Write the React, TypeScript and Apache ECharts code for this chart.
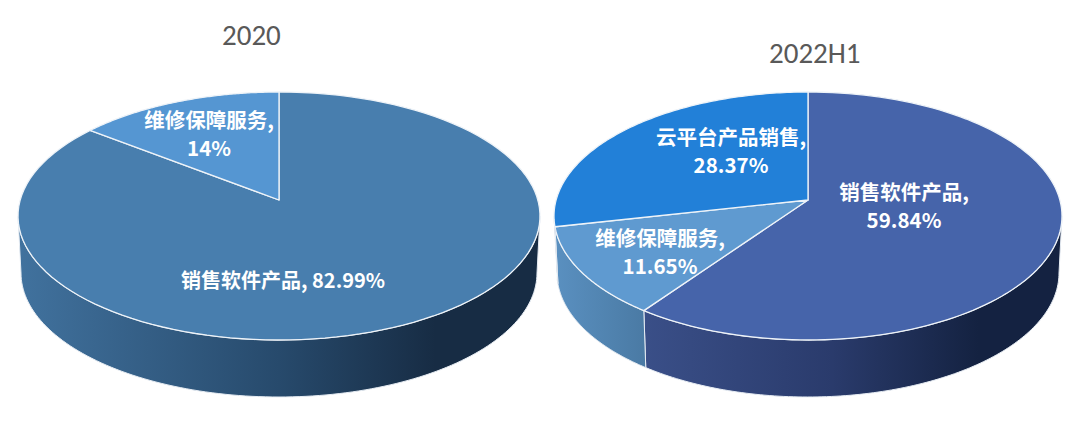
import React, { useEffect, useRef } from "react";
import * as echarts from "echarts";

const titles2020 = "2020";
const titles2022 = "2022H1";
const names2020 = ["销售软件产品", "维修保障服务"];
const values2020 = [82.99, 14];
const labels2020 = ["销售软件产品, 82.99%", "维修保障服务,\n14%"];
const names2022 = ["销售软件产品", "维修保障服务", "云平台产品销售"];
const values2022 = [59.84, 11.65, 28.37];
const labels2022 = ["销售软件产品,\n59.84%", "维修保障服务,\n11.65%", "云平台产品销售,\n28.37%"];

const FONT = '"Noto Sans CJK SC", "Noto Sans", sans-serif';
const K = 0.879;

type Look = {
  top: string;
  side: [number, string][];
  label: [number, number];
  size: number;
};
type Geo = { cx: number; ax: number; ay: number; cy: number; rx: number; ry: number; depth: number; inset: number };

const leftGeo: Geo = { cx: 279, ax: 279, ay: 200, cy: 216, rx: 261, ry: 124, depth: 57, inset: 3 };
const rightGeo: Geo = { cx: 808, ax: 808, ay: 200, cy: 216, rx: 254, ry: 124, depth: 57, inset: 3 };

const darkBlue: [number, string][] = [[0, "#41729e"], [0.5, "#274a6c"], [0.8, "#172c44"], [1, "#172c44"]];
const navy: [number, string][] = [[0, "#3a4f88"], [0.45, "#2a3b6c"], [0.8, "#142241"], [1, "#142241"]];
const steel: [number, string][] = [[0, "#5a90c0"], [1, "#4a7aa4"]];

const looks2020: Look[] = [
  { top: "#487eae", side: darkBlue, label: [283, 279], size: 20 },
  { top: "#5596d2", side: darkBlue, label: [209, 133], size: 20.5 },
];
const looks2022: Look[] = [
  { top: "#4664aa", side: navy, label: [904, 205], size: 20.5 },
  { top: "#5f9ad0", side: steel, label: [660, 251], size: 20.5 },
  { top: "#2280d8", side: navy, label: [731, 150], size: 20.5 },
];

function toEdge(theta: number) {
  const h = (theta * Math.PI) / 360;
  return 2 * Math.atan2(K * Math.sin(h), Math.cos(h));
}

function pieSeries(values: number[], names: string[], labels: string[], looks: Look[], g: Geo) {
  const total = values.reduce((a, b) => a + b, 0);
  return {
    type: "custom",
    coordinateSystem: "none",
    silent: true,
    data: values.map((v, i) => ({ value: v, name: names[i] })),
    renderItem: (params: any, api: any) => {
      const i = params.dataIndex;
      const before = values.slice(0, i).reduce((a, b) => a + b, 0);
      const v = api.value(0);
      const p1 = toEdge((before / total) * 360);
      const p2 = toEdge(((before + v) / total) * 360);
      const look = looks[i];
      const pt = (p: number) => [g.cx + g.rx * Math.sin(p), g.cy - g.ry * Math.cos(p)];
      const low = (p: number) => [
        g.cx + (g.rx - g.inset) * Math.sin(p),
        g.cy + g.depth - g.ry * Math.cos(p),
      ];
      const steps = 120;
      const top: number[][] = [[g.ax, g.ay]];
      for (let s = 0; s <= steps; s++) top.push(pt(p1 + ((p2 - p1) * s) / steps));
      const children: any[] = [];
      const s1 = Math.max(p1, Math.PI / 2);
      const s2 = Math.min(p2, (Math.PI * 3) / 2);
      if (s2 > s1) {
        const upper: number[][] = [];
        const lower: number[][] = [];
        for (let s = 0; s <= steps; s++) {
          const p = s1 + ((s2 - s1) * s) / steps;
          upper.push(pt(p));
          lower.push(low(p));
        }
        const xs = upper.map((q) => q[0]).concat(lower.map((q) => q[0]));
        const x0 = Math.min(...xs);
        const x1 = Math.max(...xs);
        children.push({
          type: "polygon",
          shape: { points: upper.concat(lower.reverse()) },
          style: {
            fill: new echarts.graphic.LinearGradient(x1, 0, x0, 0,
              look.side.map(([o, c]) => ({ offset: 1 - o, color: c })).reverse(), true),
            stroke: "#e6ecf3",
            lineWidth: 1,
          },
        });
      }
      children.push({
        type: "polygon",
        shape: { points: top },
        style: { fill: look.top, stroke: "#eef3f8", lineWidth: 1.3, lineJoin: "round" },
      });
      children.push({
        type: "text",
        z2: 10,
        style: {
          text: labels[i],
          x: look.label[0],
          y: look.label[1],
          align: "center",
          verticalAlign: "middle",
          fill: "#ffffff",
          font: `bold ${look.size}px ${FONT}`,
          lineHeight: 28,
        },
      });
      return { type: "group", children };
    },
  };
}

export default function App() {
  const ref = useRef<HTMLDivElement>(null);
  useEffect(() => {
    const chart = echarts.init(ref.current!, undefined, { renderer: "svg" });
    const titleStyle = { color: "#595959", fontSize: 29, fontWeight: "normal", fontFamily: "Carlito, Lato, sans-serif" };
    chart.setOption({
      animation: false,
      backgroundColor: "#ffffff",
      title: [
        { text: titles2020, left: 217, top: 15, textStyle: titleStyle },
        { text: titles2022, left: 764, top: 33, textStyle: titleStyle },
      ],
      series: [
        pieSeries(values2020, names2020, labels2020, looks2020, leftGeo),
        pieSeries(values2022, names2022, labels2022, looks2022, rightGeo),
      ],
    });
    return () => chart.dispose();
  }, []);
  return <div ref={ref} style={{ position: "absolute", left: 0, top: 0, width: 1080, height: 427 }} />;
}
